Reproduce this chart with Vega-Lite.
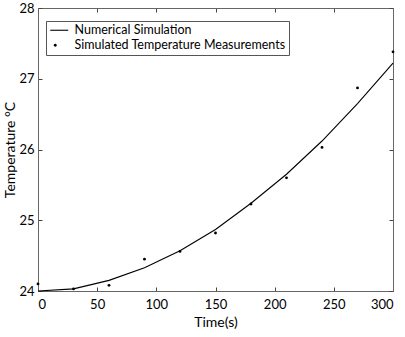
{
  "$schema": "https://vega.github.io/schema/vega-lite/v6.json",
  "width": 355,
  "height": 283,
  "autosize": {"type": "none"},
  "padding": {"left": 38, "top": 8, "right": 12, "bottom": 46},
  "background": "white",
  "config": {
    "view": {"stroke": null},
    "font": "Lato",
    "axis": {
      "grid": false,
      "domainColor": "#666",
      "tickColor": "#444",
      "tickSize": -4,
      "labelFont": "Lato",
      "labelFontSize": 13,
      "labelColor": "black",
      "titleFont": "Lato",
      "titleFontSize": 14,
      "titleFontWeight": "normal",
      "titleColor": "black"
    }
  },
  "datasets": {
    "sim": [
      {"t": 0, "temp": 24.0},
      {"t": 30, "temp": 24.03},
      {"t": 60, "temp": 24.15},
      {"t": 90, "temp": 24.33},
      {"t": 120, "temp": 24.57},
      {"t": 150, "temp": 24.87},
      {"t": 180, "temp": 25.24},
      {"t": 210, "temp": 25.65},
      {"t": 240, "temp": 26.12},
      {"t": 270, "temp": 26.65},
      {"t": 300, "temp": 27.22}
    ],
    "meas": [
      {"t": 0, "temp": 24.1, "series": "Simulated Temperature Measurements"},
      {"t": 30, "temp": 24.03, "series": "Simulated Temperature Measurements"},
      {"t": 60, "temp": 24.08, "series": "Simulated Temperature Measurements"},
      {"t": 90, "temp": 24.45, "series": "Simulated Temperature Measurements"},
      {"t": 120, "temp": 24.56, "series": "Simulated Temperature Measurements"},
      {"t": 150, "temp": 24.82, "series": "Simulated Temperature Measurements"},
      {"t": 180, "temp": 25.23, "series": "Simulated Temperature Measurements"},
      {"t": 210, "temp": 25.6, "series": "Simulated Temperature Measurements"},
      {"t": 240, "temp": 26.03, "series": "Simulated Temperature Measurements"},
      {"t": 270, "temp": 26.87, "series": "Simulated Temperature Measurements"},
      {"t": 300, "temp": 27.38, "series": "Simulated Temperature Measurements"}
    ]
  },
  "layer": [
    {
      "data": {"name": "sim"},
      "mark": {"type": "line", "color": "black", "strokeWidth": 1.1},
      "encoding": {
        "x": {"field": "t", "type": "quantitative", "scale": {"domain": [0, 300], "nice": false}, "axis": {"title": "Time(s)", "values": [0, 50, 100, 150, 200, 250, 300], "titlePadding": 4, "labelPadding": 11}},
        "y": {"field": "temp", "type": "quantitative", "scale": {"domain": [24, 28], "nice": false, "zero": false}, "axis": {"title": "Temperature °C", "values": [24, 25, 26, 27, 28], "titlePadding": 1, "labelPadding": 8}}
      }
    },
    {
      "data": {"name": "meas"},
      "mark": {"type": "point", "filled": true, "color": "black", "opacity": 1},
      "encoding": {
        "x": {"field": "t", "type": "quantitative", "axis": {"orient": "top", "title": null, "labels": false, "values": [0, 50, 100, 150, 200, 250, 300]}},
        "y": {"field": "temp", "type": "quantitative", "axis": {"orient": "right", "title": null, "labels": false, "values": [24, 25, 26, 27, 28]}},
        "shape": {
          "field": "series",
          "type": "nominal",
          "scale": {"domain": ["Numerical Simulation", "Simulated Temperature Measurements"], "range": ["M-1,-0.11L2.6,-0.11L2.6,0.11L-1,0.11Z", "circle"]},
          "legend": {
            "title": null,
            "orient": "none",
            "legendX": 8,
            "legendY": 13,
            "strokeColor": "#555",
            "fillColor": "white",
            "padding": 3,
            "rowPadding": 2,
            "labelFont": "Lato",
            "labelFontSize": 12.5,
            "labelLimit": 400,
            "labelOffset": 13,
            "labelColor": "black",
            "encode": {
              "symbols": {
                "update": {
                  "fill": {"signal": "datum.value === 'Numerical Simulation' ? '#444' : 'black'"},
                  "strokeWidth": {"value": 0},
                  "opacity": {"value": 1}
                }
              }
            }
          }
        },
        "size": {
          "field": "series",
          "type": "nominal",
          "scale": {"domain": ["Numerical Simulation", "Simulated Temperature Measurements"], "range": [100, 8]}
        }
      }
    }
  ],
  "resolve": {"axis": {"x": "independent", "y": "independent"}}
}
